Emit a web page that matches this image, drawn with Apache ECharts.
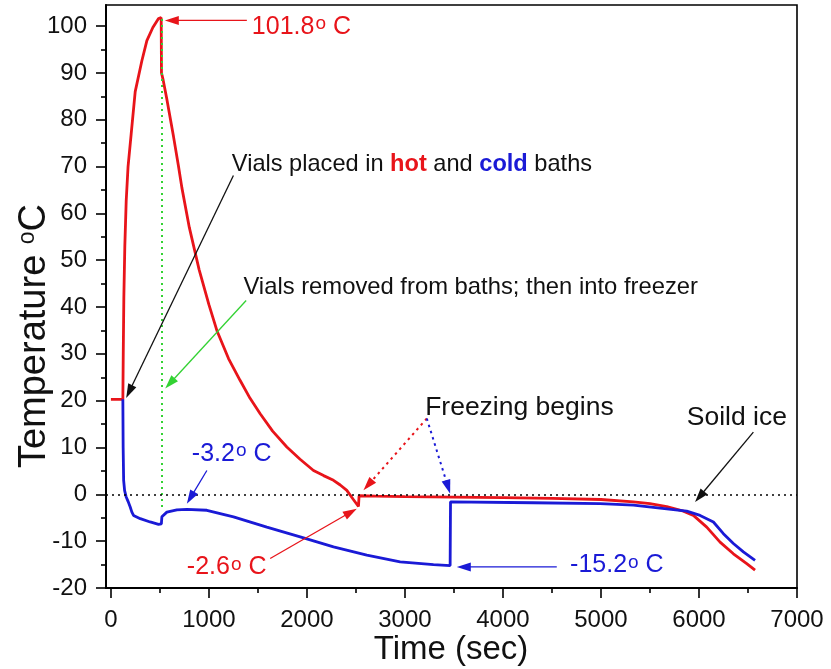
<!DOCTYPE html>
<html><head><meta charset="utf-8">
<script src="https://cdn.jsdelivr.net/npm/echarts@6/dist/echarts.min.js"></script>
<style>html,body{margin:0;padding:0;background:#fff}#c{width:831px;height:669px}</style>
</head><body><div id="c"></div>
<script>
// ---- data (time in s, temperature in °C) ----
const hotTime = [0, 122, 126, 132, 142, 156, 175, 207, 248, 316, 367, 428, 486, 513, 516, 533, 570, 638, 690, 724, 800, 900, 1000, 1081, 1200, 1319, 1420, 1523, 1650, 1795, 1930, 2067, 2170, 2271, 2340, 2407, 2470, 2526, 2532, 2700, 3000, 3500, 4000, 4500, 5000, 5331, 5500, 5671, 5841, 5943, 6079, 6215, 6351, 6487, 6572];
const hotTemp = [20.3, 20.3, 30, 42, 53, 62.6, 70, 77, 86, 92.6, 96.9, 99.7, 101.6, 101.8, 90, 88.5, 84.5, 76.5, 70, 65.5, 57, 48, 40.5, 35, 29, 24.3, 20.5, 17.2, 13.5, 10.1, 7.5, 5.1, 4, 3, 2, 0.85, -1, -2.6, -0.3, -0.4, -0.5, -0.6, -0.7, -0.85, -1.1, -1.6, -2.0, -2.6, -3.6, -4.5, -7, -10.2, -12.7, -14.8, -16.2];
const coldTime = [122, 125, 130, 140, 155, 175, 197, 214, 231, 300, 400, 486, 515, 520, 571, 673, 775, 979, 1251, 1591, 1931, 2271, 2611, 2951, 3291, 3461, 3465, 4310, 4991, 5331, 5671, 5875, 6011, 6147, 6249, 6351, 6453, 6572];
const coldTemp = [20.3, 10, 3, 0.8, -0.5, -1.5, -2.7, -3.8, -4.5, -5.2, -5.9, -6.4, -6.3, -4.8, -3.8, -3.3, -3.2, -3.4, -4.8, -7, -9.1, -11.2, -13, -14.4, -15.0, -15.2, -1.6, -1.8, -2.0, -2.3, -3.1, -3.6, -4.5, -5.9, -8.4, -10.5, -12.3, -14.1];
const xTickLabels = [0, 1000, 2000, 3000, 4000, 5000, 6000, 7000];
const xMinorTicks = [500, 1500, 2500, 3500, 4500, 5500, 6500];
const yTickLabels = [-20, -10, 0, 10, 20, 30, 40, 50, 60, 70, 80, 90, 100];
const yMinorTicks = [-15, -5, 5, 15, 25, 35, 45, 55, 65, 75, 85, 95];
const removalTime = 516;
const removalSpan = [101.5, -3];

// annotations in data coordinates
const arrowFrom = [[1387, 101.2], [1250, 68.1], [1380, 41.4], [979, 5.1], [1625, -13.7], [3223, 16.2], [3223, 16.2], [6555, 13.3], [4549, -15.5]];
const arrowTo   = [[550, 101.2], [156, 20.6], [554, 22.6], [775, -2.0], [2509, -3.05], [2577, 0.85], [3461, 0.15], [5960, -1.64], [3529, -15.5]];
const arrowColor = ['#e8141a', '#111', '#33d233', '#1a1ad6', '#e8141a', '#e8141a', '#1a1ad6', '#111', '#1a1ad6'];
const arrowDotted = [false, false, false, false, false, true, true, false, false];

const FONT = '"Liberation Sans", Arial, sans-serif';
const RED = '#e8141a', BLUE = '#1a1ad6';

const chart = echarts.init(document.getElementById('c'), null, {renderer: 'canvas'});
const toPairs = (xs, ys) => xs.map((x, i) => [x, ys[i]]);
const plain = (v) => String(v);

const option = {
  animation: false,
  backgroundColor: '#fff',
  grid: {left: 106, right: 34, top: 5, bottom: 81, show: true, borderColor: '#000', borderWidth: 1.6, backgroundColor: 'transparent'},
  xAxis: [{
    type: 'value', min: -50, max: 7000, position: 'bottom',
    axisLine: {show: true, onZero: false, lineStyle: {color: '#000', width: 2}},
    axisTick: {show: true, inside: false, length: 10, customValues: xTickLabels, lineStyle: {color: '#000', width: 1.6}},
    axisLabel: {customValues: xTickLabels, formatter: plain, margin: 20, color: '#111', fontSize: 24, fontFamily: FONT},
    splitLine: {show: false}
  }, {
    type: 'value', min: -50, max: 7000, position: 'bottom',
    axisLine: {show: false, onZero: false},
    axisTick: {show: true, inside: false, length: 5, customValues: xMinorTicks, lineStyle: {color: '#000', width: 1.6}},
    axisLabel: {show: false},
    splitLine: {show: false}
  }],
  yAxis: [{
    type: 'value', min: -20, max: 104.5, position: 'left',
    axisLine: {show: true, onZero: false, lineStyle: {color: '#000', width: 2}},
    axisTick: {show: true, inside: false, length: 10, customValues: yTickLabels, lineStyle: {color: '#000', width: 1.6}},
    axisLabel: {customValues: yTickLabels, formatter: plain, margin: 19, color: '#111', fontSize: 24, fontFamily: FONT},
    splitLine: {show: false}
  }, {
    type: 'value', min: -20, max: 104.5, position: 'left',
    axisLine: {show: false, onZero: false},
    axisTick: {show: true, inside: false, length: 5, customValues: yMinorTicks, lineStyle: {color: '#000', width: 1.6}},
    axisLabel: {show: false},
    splitLine: {show: false}
  }],
  series: [{
    name: 'hot', type: 'line', xAxisIndex: 0, yAxisIndex: 0,
    data: toPairs(hotTime, hotTemp), showSymbol: false, smooth: false,
    lineStyle: {color: RED, width: 2.8}, z: 3,
    markLine: {
      silent: true, symbol: ['none', 'none'], label: {show: false},
      lineStyle: {color: '#33d233', type: [2, 4], width: 2},
      data: [[{coord: [removalTime, removalSpan[0]]}, {coord: [removalTime, removalSpan[1]]}]]
    }
  }, {
    name: 'cold', type: 'line', xAxisIndex: 0, yAxisIndex: 0,
    data: toPairs(coldTime, coldTemp), showSymbol: false, smooth: false,
    lineStyle: {color: BLUE, width: 2.8}, z: 4,
    markLine: {
      silent: true, symbol: ['none', 'none'], label: {show: false},
      lineStyle: {color: '#000', type: [2, 4], width: 1.5},
      data: [{yAxis: 0}]
    }
  }]
};
chart.setOption(option);

function px(p) { return chart.convertToPixel({xAxisIndex: 0, yAxisIndex: 0}, p); }
const g = [];
arrowFrom.forEach((f, i) => {
  const s = px(f), e = px(arrowTo[i]);
  const dx = e[0] - s[0], dy = e[1] - s[1];
  const len = Math.hypot(dx, dy), ux = dx / len, uy = dy / len;
  const L = 14, W = 4.5;
  const bx = e[0] - L * ux, by = e[1] - L * uy;
  g.push({type: 'line', silent: true, z: 10,
    shape: {x1: s[0], y1: s[1], x2: e[0] - L * 0.7 * ux, y2: e[1] - L * 0.7 * uy},
    style: {stroke: arrowColor[i], lineWidth: arrowDotted[i] ? 2 : 1.3, lineDash: arrowDotted[i] ? [2.5, 4] : null}});
  g.push({type: 'polygon', silent: true, z: 10,
    shape: {points: [[e[0], e[1]], [bx - W * uy, by + W * ux], [bx + W * uy, by - W * ux]]},
    style: {fill: arrowColor[i]}});
});

function richText(pos, text, rich) {
  const p = px(pos);
  g.push({type: 'text', silent: true, z: 11, x: p[0], y: p[1],
    style: {text: text, align: 'left', verticalAlign: 'middle', rich: rich}});
}
const mk = (c, fs) => ({
  n: {fontSize: fs, fontFamily: FONT, fill: c},
  s: {fontSize: 19, fontFamily: FONT, fill: c, verticalAlign: 'top', padding: [0, 0, 0, 1]},
  r: {fontSize: fs, fontFamily: FONT, fill: RED, fontWeight: 'bold'},
  b: {fontSize: fs, fontFamily: FONT, fill: BLUE, fontWeight: 'bold'}
});
richText([1438, 99.8], '{n|101.8}{s|o}{n| C}', mk(RED, 25));
richText([1234, 70.5], '{n|Vials placed in }{r|hot}{n| and }{b|cold}{n| baths}', mk('#111', 23.6));
richText([1352, 44.1], '{n|Vials removed from baths; then into freezer}', mk('#111', 23.8));
richText([826, 8.6], '{n|-3.2}{s|o}{n| C}', mk(BLUE, 25));
richText([775, -15.6], '{n|-2.6}{s|o}{n| C}', mk(RED, 25));
richText([3206, 18.6], '{n|Freezing begins}', mk('#111', 26.5));
richText([5875, 16.3], '{n|Soild ice}', mk('#111', 26.5));
richText([4685, -15.2], '{n|-15.2}{s|o}{n| C}', mk(BLUE, 25));

// axis titles
g.push({type: 'text', silent: true, x: 35, y: 336, rotation: Math.PI / 2,
  style: {text: '{n|Temperature }{s|o}{n|C}', align: 'center', verticalAlign: 'middle',
    rich: {n: {fontSize: 38, fontFamily: FONT, fill: '#111'}, s: {fontSize: 23, fontFamily: FONT, fill: '#111', verticalAlign: 'top'}}}});
g.push({type: 'text', silent: true, x: 451, y: 650,
  style: {text: 'Time (sec)', align: 'center', verticalAlign: 'middle', fontSize: 33, fontFamily: FONT, fill: '#111'}});

chart.setOption({graphic: g});
</script>
</body></html>
